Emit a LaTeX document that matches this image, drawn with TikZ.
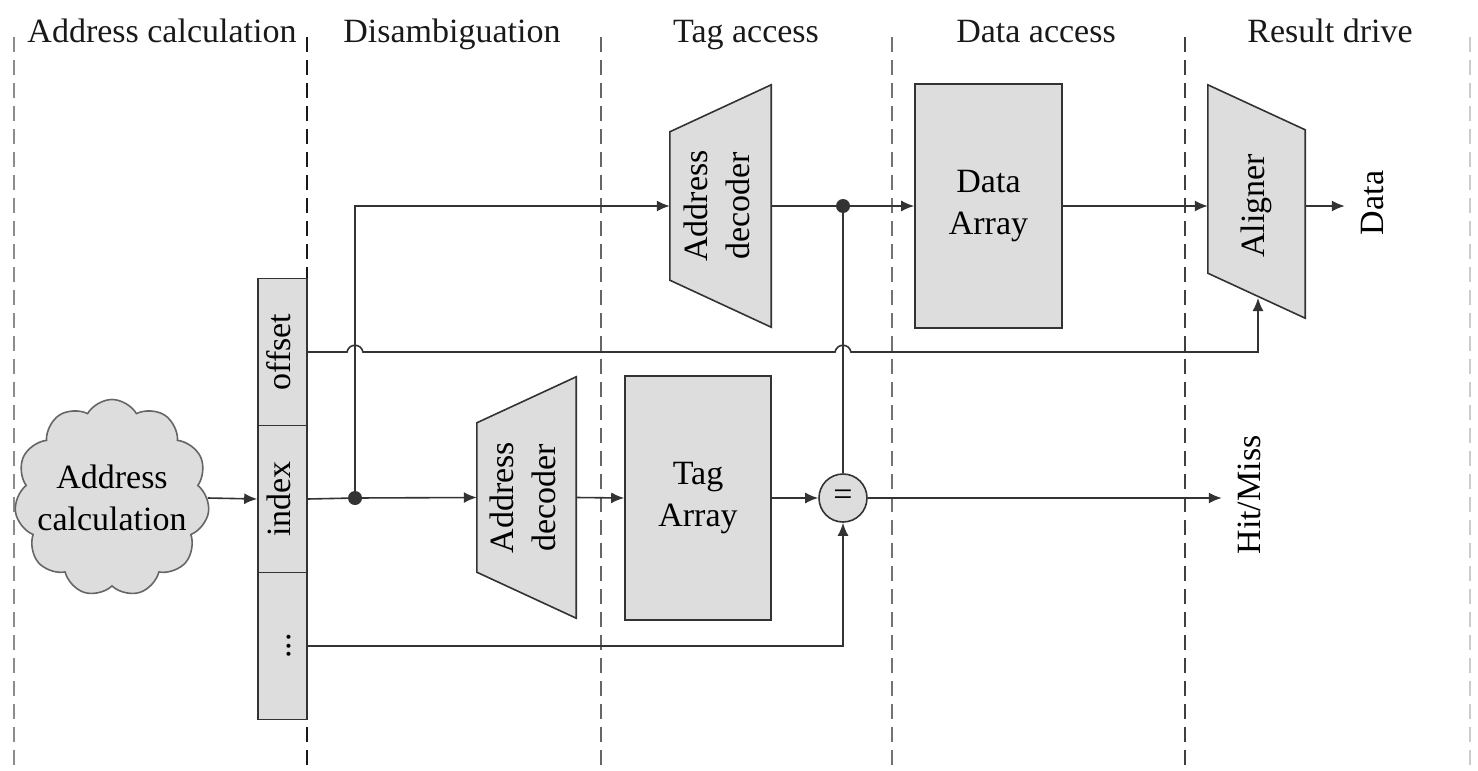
\documentclass[tikz,border=0pt]{standalone}
\usepackage{fontspec}
\setmainfont{Liberation Serif}
\usetikzlibrary{arrows.meta,shapes.symbols}
\definecolor{boxfill}{HTML}{DDDDDD}
\definecolor{boxline}{HTML}{333333}
\definecolor{wirecol}{HTML}{333333}
\newcommand{\vt}[1]{\rotatebox{90}{\begin{tabular}{@{}c@{}}#1\end{tabular}}}
\tikzset{
  phase/.style={anchor=base,text=black!90},
  sep/.style={dash pattern=on 15pt off 8pt,line width=1.5pt},
  block/.style={draw=boxline,fill=boxfill,line width=1.6pt,inner sep=0pt},
  field/.style={block,minimum width=49,minimum height=147},
  shell/.style={inner sep=0pt},
  wire/.style={draw=wirecol,line width=1.6pt},
  arr/.style={wire,-{Latex[length=13pt,width=11pt]}},
  dot/.style={circle,fill=wirecol,inner sep=0pt,minimum size=14},
  outlab/.style={inner sep=9pt}
}
\begin{document}
\begin{tikzpicture}[x=1pt,y=-1pt,font=\fontsize{34}{42}\selectfont]
      \useasboundingbox (0,0) rectangle (1478,771);
      % stage separators
      \foreach \x/\c in {14/black!45,307/black!90,601/black!60,892/black!55,1185/black!75,1470/black!20}
        \draw[sep,\c] (\x,37) -- (\x,771);
      % stage names
      \node (ph1) [phase] at (162,42) {Address calculation};
      \node (ph2) [phase] at (452,42) {Disambiguation};
      \node (ph3) [phase] at (746,42) {Tag access};
      \node (ph4) [phase] at (1036,42) {Data access};
      \node (ph5) [phase] at (1330,42) {Result drive};
      % address source
      \node (ac) [block,draw=black!60,cloud,cloud puffs=11,cloud puff arc=120,aspect=1,
        minimum width=195,minimum height=197] at (112,498) {};
      \node (actxt) [align=center] at (ac.center) {Address\\calculation};
      % address fields
      \node (off) [field] at (282.5,352) {\vt{offset}};
      \node (idx) [field] at (282.5,499) {\vt{index}};
      \node (rest) [field] at (282.5,646) {\vt{...}};
      % decoders
      \node (dec1) [shell,minimum width=101,minimum height=242] at (720.5,206) {};
      \filldraw[block] (dec1.north east) -- (dec1.south east) -- ([yshift=47pt]dec1.south west)
        -- ([yshift=-47pt]dec1.north west) -- cycle;
      \node (dec1txt) at (dec1.center) {\vt{Address\\decoder}};
      \node (dec2) [shell,minimum width=99,minimum height=241] at (526.5,497.5) {};
      \filldraw[block] (dec2.north east) -- (dec2.south east) -- ([yshift=46pt]dec2.south west)
        -- ([yshift=-46pt]dec2.north west) -- cycle;
      \node (dec2txt) at (dec2.center) {\vt{Address\\decoder}};
      % arrays
      \node (da) [block,minimum width=147,minimum height=244,align=center] at (988.5,206) {Data\\Array};
      \node (ta) [block,minimum width=146,minimum height=244,align=center] at (698,498) {Tag\\Array};
      % aligner
      \node (al) [shell,minimum width=97,minimum height=233] at (1256.5,201.5) {};
      \filldraw[block] (al.north west) -- ([yshift=45pt]al.south west) -- (al.south east)
        -- ([yshift=-45pt]al.north east) -- cycle;
      \node (altxt) at (al.center |- da.east) {\vt{Aligner}};
      \coordinate (alin) at (1258,298);
      % compare
      \node (eq) [block,circle,minimum size=48] at (843,498) {=};
      \node (j1) [dot] at (355,498) {};
      \node (j2) [dot] at (843,206) {};
      % outputs
      \node (dlab) [outlab] at (1375,203) {\vt{Data}};
      \node (hm) [outlab] at (1252,495) {\vt{Hit/Miss}};
      % wires
      \coordinate (h1) at (off.east -| j1);
      \coordinate (h2) at (off.east -| j2);
      \begin{scope}
        \draw[arr] (ac.east) -- (idx.west);
        \draw[wire] (idx.east) -- (j1);
        \draw[arr] (j1) -- (dec2.west);
        \draw[arr] (j1) |- (dec1.west);
        \draw[arr] (dec2.east) -- (ta.west);
        \draw[arr] (ta.east) -- (eq.west);
        \draw[wire] (dec1.east) -- (j2);
        \draw[arr] (j2) -- (da.west);
        \draw[wire] (j2) -- (eq.north);
        \draw[arr] (da.east) -- (al.west |- da.east);
        \draw[arr] (al.east |- da.east) -- (dlab.west |- da.east);
        \draw[arr] (eq.east) -- (hm.west |- eq.east);
        \draw[arr] (rest.east) -| (eq.south);
        \draw[arr] (off.east) -- ([xshift=-8pt]h1)
          .. controls ([xshift=-6pt,yshift=9pt]h1) and ([xshift=6pt,yshift=9pt]h1) .. ([xshift=8pt]h1)
          -- ([xshift=-8pt]h2)
          .. controls ([xshift=-6pt,yshift=9pt]h2) and ([xshift=6pt,yshift=9pt]h2) .. ([xshift=8pt]h2)
          -| (alin);
      \end{scope}
    \end{tikzpicture}
\end{document}
